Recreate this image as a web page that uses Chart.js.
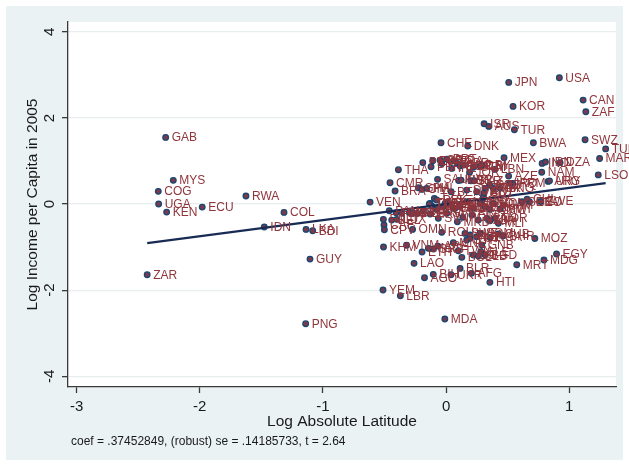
<!DOCTYPE html>
<html>
<head>
<meta charset="utf-8">
<script src="https://cdn.jsdelivr.net/npm/chart.js@4.4.1/dist/chart.umd.min.js"></script>
<style>
  html, body { margin: 0; padding: 0; background: #fff; }
  #wrap { width: 629px; height: 465px; }
</style>
</head>
<body>
<div id="wrap"><canvas id="avplot" width="629" height="465"></canvas></div>
<script>
// added-variable plot: log income vs log absolute latitude (residuals)

const countryCodes = [
  "GAB","MYS","COG","UGA","KEN","ECU","RWA","COL","IDN","LKA","BDI","ZAR","GUY","PNG",
  "YEM","LBR","MDA","KHM","LAO","AGO","BIH","UKR","BLR","AFG","HTI","MRT","MDG","EGY",
  "MOZ","VNM","ETH","JPN","USA","CAN","ZAF","KOR","ISR","AUS","TUR","CHE","DNK","BWA",
  "SWZ","TUN","MAR","MEX","IND","IRN","DZA","NAM","LSO","ARG","URY","ARM","AZE","LBN",
  "THA","CMR","BRA","VEN","SAU","BEN","ZWE","CAF","OMN","ROU","PRY","PER","ESP","GRC",
  "ITA","PRT","IRL","FRA","GBR","BGR","NLD","JOR","GTM","CRI","LBY","KWT","NER","SYR",
  "KAZ","ZMB","KGZ","TJK","MNG","IRQ","GHA","CIV","PHL","SDN","TCD","TZA","TGO","LVA",
  "EST","HND","NIC","SLV","DOM","JAM","SEN","GEO","CHL","PAN","PAK","BFA","NPL","GIN",
  "MMR","TTO","PRK","SGP","HKG","CHN","SUR","NZL","GMB","GNQ","ERI","FJI","BEL","LUX",
  "HRV","SVN","SVK","MKD","MLI","MWI","SOM","TKM","UZB","BTN","NOR","FIN","AUT","DEU",
  "POL","SWE","ISL","NGA","CUB","BHR","CYP","GNB","SLE","BOL","DJI","BGD","TWN","MNE",
  "MAC","SRB","ARE","CPV","ALB","MLT","KIR","WSM","SLB","VUT"
];

const logLatitude = [
  -2.277,-2.215,-2.337,-2.334,-2.269,-1.980,-1.625,-1.316,-1.476,-1.137,-1.083,-2.427,-1.105,-1.140,
  -0.512,-0.371,-0.010,-0.508,-0.260,-0.175,-0.104,0.040,0.114,0.206,0.356,0.574,0.795,0.897,
  0.721,-0.321,-0.195,0.509,0.920,1.113,1.135,0.544,0.309,0.347,0.555,-0.041,0.176,0.709,
  1.129,1.296,1.247,0.471,0.780,0.807,0.926,0.777,1.236,0.829,0.840,0.542,0.508,0.396,
  -0.387,-0.455,-0.414,-0.617,-0.069,0.041,0.769,-0.504,-0.272,-0.035,-0.189,-0.122,-0.108,-0.049,
  -0.035,0.006,0.046,0.061,0.092,0.114,0.141,0.191,0.222,0.276,0.292,0.102,0.122,0.201,
  0.227,0.317,0.352,0.384,0.439,0.520,-0.225,-0.197,-0.157,0.168,0.249,-0.095,-0.130,-0.116,
  -0.008,0.073,0.290,0.303,0.384,0.465,0.615,0.677,0.658,-0.461,-0.406,-0.360,-0.298,-0.266,
  -0.184,-0.136,-0.076,-0.022,0.024,0.059,0.114,0.168,0.222,0.276,0.317,-0.509,-0.441,-0.400,
  -0.130,-0.063,0.006,0.092,0.425,0.439,0.276,0.195,0.262,0.331,0.398,0.209,0.309,0.357,
  0.136,0.154,0.249,0.357,0.425,0.465,0.168,0.290,0.282,0.128,0.222,0.317,0.100,0.059,
  -0.144,-0.103,-0.067,-0.501,-0.233,-0.076,0.357,0.357,0.262,0.195
];

const logIncome = [
  1.549,0.551,0.295,0.000,-0.186,-0.070,0.186,-0.193,-0.534,-0.588,-0.620,-1.642,-1.278,-2.780,
  -1.998,-2.130,-2.671,-0.999,-1.377,-1.712,-1.633,-1.642,-1.494,-1.610,-1.819,-1.410,-1.301,-1.161,
  -0.801,-0.957,-1.115,2.827,2.934,2.416,2.144,2.269,1.865,1.805,1.726,1.424,1.347,1.424,
  1.494,1.282,1.057,1.075,0.945,0.976,0.964,0.739,0.678,0.527,0.540,0.481,0.650,0.806,
  0.797,0.495,0.302,0.046,0.574,0.286,0.058,-0.488,-0.588,-0.657,0.964,0.866,1.006,1.022,
  0.941,1.045,0.829,1.006,0.945,0.883,0.906,0.739,0.853,0.883,0.906,0.546,0.557,0.541,
  0.541,0.365,0.441,0.365,0.365,0.481,0.379,0.341,0.365,0.325,0.286,0.132,0.016,-0.046,
  0.016,-0.100,0.070,0.170,0.016,-0.023,0.053,0.053,0.116,-0.156,-0.202,-0.216,-0.202,-0.216,
  -0.156,0.000,0.093,-0.063,0.016,-0.100,-0.039,0.053,-0.100,0.016,-0.063,-0.355,-0.372,-0.355,
  -0.232,-0.332,-0.216,-0.411,-0.448,-0.116,-0.681,-0.720,-0.372,-0.332,-0.332,-0.256,0.256,0.441,
  -0.309,-0.681,-0.760,-0.774,-0.697,-0.736,-0.836,-0.952,-1.108,-1.238,-1.185,-1.185,-1.085,-0.899,
  -1.029,-1.045,-0.976,-0.597,-0.216,-0.123,-0.388,-0.123,-1.208,-0.797
];

const xTicks = [-3, -2, -1, 0, 1];
const yTicks = [-4, -2, 0, 2, 4];

const coef = 0.37452849;
const noteText = "coef = .37452849, (robust) se = .14185733, t = 2.64";
const xTitle = "Log Absolute Latitude";
const yTitle = "Log Income per Capita in 2005";

const FONT = '"Liberation Sans", Arial, sans-serif';
const outerBg = '#eaf2f3';
const gridColor = '#e6eef0';
const axisColor = '#3a3a3a';
const navy = '#1a476f';
const fitColor = '#182b55';
const maroon = '#90353b';

const points = logLatitude.map((x, i) => ({ x: x, y: logIncome[i] }));
const xMin = Math.min(...logLatitude);
const xMax = Math.max(...logLatitude);
const fitLine = [
  { x: xMin, y: coef * xMin },
  { x: xMax, y: coef * xMax }
];

// ---------------------------
// Backgrounds: bluish frame, white plot region
// ---------------------------
const frameBg = {
  id: 'frameBg',
  beforeDraw(chart) {
    const ctx = chart.ctx;
    const a = chart.chartArea;
    ctx.save();
    ctx.fillStyle = '#ffffff';
    ctx.fillRect(0, 0, chart.width, chart.height);
    ctx.fillStyle = outerBg;
    ctx.fillRect(6, 6, 617, 454);
    ctx.fillStyle = '#ffffff';
    ctx.fillRect(a.left, a.top, a.right - a.left, a.bottom - a.top);
    ctx.restore();
  }
};

// ---------------------------
// Country labels next to each marker
// ---------------------------
const markerLabels = {
  id: 'markerLabels',
  afterDatasetsDraw(chart) {
    const ctx = chart.ctx;
    const meta = chart.getDatasetMeta(0);
    ctx.save();
    ctx.font = '12px ' + FONT;
    ctx.fillStyle = maroon;
    ctx.textAlign = 'left';
    ctx.textBaseline = 'middle';
    meta.data.forEach((pt, i) => {
      ctx.fillText(countryCodes[i], pt.x + 6, pt.y + 0.5);
    });
    ctx.restore();
  }
};

// ---------------------------
// Tick labels, axis titles, note
// ---------------------------
const axisText = {
  id: 'axisText',
  afterDraw(chart) {
    const ctx = chart.ctx;
    const xs = chart.scales.x;
    const ys = chart.scales.y;
    const a = chart.chartArea;
    ctx.save();
    ctx.fillStyle = '#1a1a1a';
    ctx.textAlign = 'center';
    ctx.textBaseline = 'middle';

    ctx.font = '15px ' + FONT;
    xTicks.forEach(v => {
      ctx.fillText(String(v), xs.getPixelForValue(v), 407);
    });
    yTicks.forEach(v => {
      ctx.save();
      ctx.translate(50, ys.getPixelForValue(v));
      ctx.rotate(-Math.PI / 2);
      ctx.fillText(String(v), 0, 0);
      ctx.restore();
    });

    ctx.font = '15.5px ' + FONT;
    ctx.fillText(xTitle, (a.left + a.right) / 2, 422);
    ctx.save();
    ctx.translate(33, (a.top + a.bottom) / 2);
    ctx.rotate(-Math.PI / 2);
    ctx.fillText(yTitle, 0, 0);
    ctx.restore();

    ctx.font = '12px ' + FONT;
    ctx.textAlign = 'left';
    ctx.fillText(noteText, 71, 442);
    ctx.restore();
  }
};

const ctx = document.getElementById('avplot').getContext('2d');
const chart = new Chart(ctx, {
  type: 'scatter',
  data: {
    datasets: [
      {
        label: 'countries',
        data: points,
        backgroundColor: '#7a3a4e',
        borderColor: navy,
        borderWidth: 1.3,
        pointRadius: 2.8,
        order: 1
      },
      {
        type: 'line',
        label: 'fit',
        data: fitLine,
        borderColor: fitColor,
        borderWidth: 2.2,
        pointRadius: 0,
        fill: false,
        order: 0
      }
    ]
  },
  options: {
    responsive: false,
    animation: false,
    devicePixelRatio: 1,
    layout: { padding: { left: 62, top: 22, right: 13, bottom: 72 } },
    plugins: {
      legend: { display: false },
      tooltip: { enabled: false }
    },
    scales: {
      x: {
        type: 'linear',
        min: -3.07,
        max: 1.38,
        bounds: 'data',
        afterBuildTicks: s => { s.ticks = xTicks.map(v => ({ value: v })); },
        afterFit: s => { s.height = 6; },
        ticks: { display: false },
        grid: { drawOnChartArea: false, tickLength: 6, tickColor: axisColor, tickWidth: 1.3 },
        border: { color: axisColor, width: 1.3 }
      },
      y: {
        type: 'linear',
        min: -4.25,
        max: 4.23,
        bounds: 'data',
        afterBuildTicks: s => { s.ticks = yTicks.map(v => ({ value: v })); },
        afterFit: s => { s.width = 6; },
        ticks: { display: false },
        grid: { color: gridColor, lineWidth: 1.3, tickLength: 6, tickColor: axisColor, tickWidth: 1.3 },
        border: { color: axisColor, width: 1.3 }
      }
    }
  },
  plugins: [frameBg, markerLabels, axisText]
});
</script>
</body>
</html>
